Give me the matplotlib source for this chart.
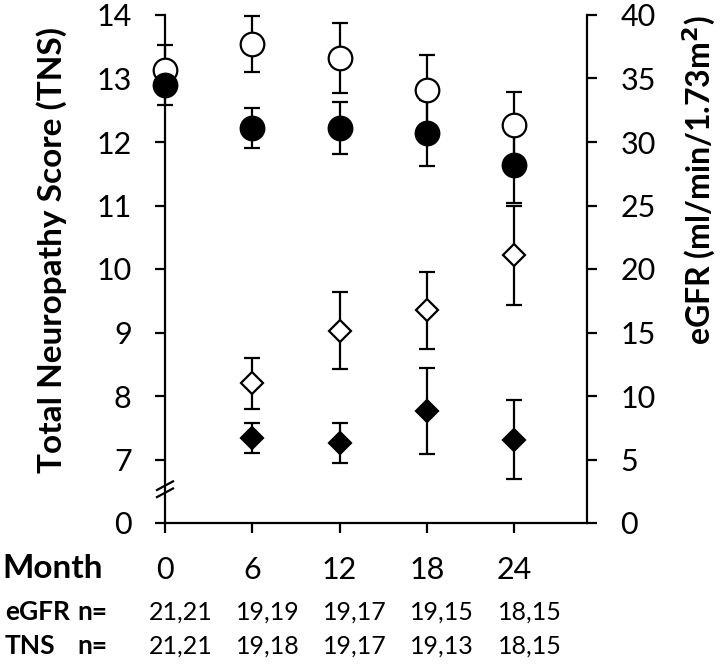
import numpy as np
import matplotlib.pyplot as plt

plt.rcParams['font.family'] = ['Lato', 'DejaVu Sans']
plt.rcParams['xtick.major.pad'] = 17
plt.rcParams['ytick.major.pad'] = 17

# months and group sizes
months = [0, 6, 12, 18, 24]
months_tns = [6, 12, 18, 24]
egfr_n = ['21,21', '19,19', '19,17', '19,15', '18,15']
tns_n = ['21,21', '19,18', '19,17', '19,13', '18,15']

# eGFR (right axis), open and filled groups
egfr_open = [35.7, 37.7, 36.6, 34.1, 31.3]
egfr_open_se = [1.9, 2.2, 2.75, 2.75, 2.6]
egfr_fill = [34.5, 31.1, 31.1, 30.7, 28.2]
egfr_fill_se = [1.6, 1.55, 2.05, 2.6, 3.0]

# TNS (left axis), open and filled groups
tns_open = [8.20, 9.03, 9.35, 10.22]
tns_open_se = [0.40, 0.61, 0.61, 0.78]
tns_fill = [7.34, 7.26, 7.76, 7.31]
tns_fill_se = [0.23, 0.32, 0.68, 0.62]

lw = 1.6
fig = plt.figure(figsize=(7.22, 6.66), dpi=100)
ax = fig.add_axes([165/722, 1-523/666, 422/722, 508/666])
ax2 = ax.twinx()

eb = dict(ecolor='black', elinewidth=lw, capsize=6, capthick=lw, linestyle='none',
          markeredgecolor='black', markeredgewidth=lw, clip_on=False)
ax.errorbar(months_tns, tns_open, yerr=tns_open_se, fmt='D', ms=11, markerfacecolor='white', **eb)
ax.errorbar(months_tns, tns_fill, yerr=tns_fill_se, fmt='D', ms=11, markerfacecolor='black', **eb)
ax2.errorbar(months, egfr_open, yerr=egfr_open_se, fmt='o', ms=17, markerfacecolor='white', **eb)
ax2.errorbar(months, egfr_fill, yerr=egfr_fill_se, fmt='o', ms=17, markerfacecolor='black', **eb)

ax.set_xlim(0, 29)
ax.set_ylim(6, 14)
ax2.set_ylim(0, 40)
ax.set_xticks(months)
ax.set_xticklabels([str(m) for m in months])
ax.set_yticks(range(6, 15))
ax.set_yticklabels(['0'] + [str(v) for v in range(7, 15)])
ax2.set_yticks(range(0, 41, 5))

for a in (ax, ax2):
    for s in a.spines.values():
        s.set_linewidth(lw)
    a.spines['top'].set_visible(False)
ax2.spines['left'].set_visible(False)
ax2.spines['bottom'].set_visible(False)
ax.spines['right'].set_visible(False)

ax.tick_params(axis='both', direction='out', length=7, width=lw, labelsize=22, pad=17)
ax2.tick_params(axis='y', direction='out', length=7, width=lw, labelsize=22, pad=17)

# axis break marks on left spine
for y0 in (0.065, 0.051):
    ax.plot([-0.019, 0.019], [y0, y0 + 0.017], color='black', lw=lw,
            transform=ax.transAxes, clip_on=False)

ax.text(-0.268, 0.537, 'Total Neuropathy Score (TNS)', rotation=90, ha='center', va='center',
        fontsize=24, fontweight='bold', transform=ax.transAxes)
ax2.text((699-165)/422, 0.675, 'eGFR (ml/min/1.73m$^\\mathbf{2}$)', rotation=90, ha='center', va='center',
         fontsize=23, fontweight='bold', transform=ax.transAxes)

fig.text(2/722, 1-569/666, 'Month', fontsize=24, fontweight='bold', ha='left', va='center')
fig.text(5/722, 1-612/666, 'eGFR', fontsize=19, fontweight='bold', ha='left', va='center')
fig.text(107/722, 1-612/666, 'n=', fontsize=19, fontweight='bold', ha='right', va='center')
fig.text(5/722, 1-646/666, 'TNS', fontsize=19, fontweight='bold', ha='left', va='center')
fig.text(107/722, 1-646/666, 'n=', fontsize=19, fontweight='bold', ha='right', va='center')

for m, a, b in zip(months, egfr_n, tns_n):
    ax.annotate(a, xy=(m, 1-612/666), xycoords=('data', 'figure fraction'),
                xytext=(11, 0), textcoords='offset points', ha='center', va='center', fontsize=18)
    ax.annotate(b, xy=(m, 1-646/666), xycoords=('data', 'figure fraction'),
                xytext=(11, 0), textcoords='offset points', ha='center', va='center', fontsize=18)

plt.savefig('out.png', dpi=100)
